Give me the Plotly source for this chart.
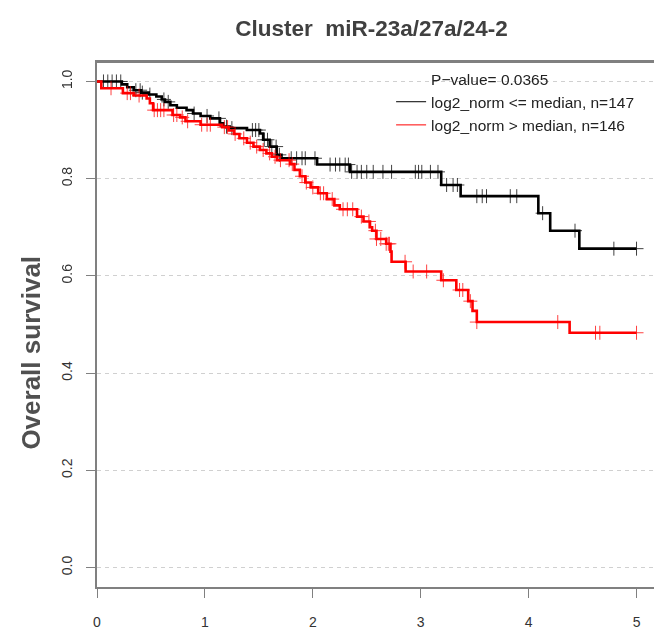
import numpy as np
import plotly.graph_objects as go

# ---- data ----
title_text = "Cluster  miR-23a/27a/24-2"
y_title = "Overall survival"
p_value_label = "P\u2212value= 0.0365"
low_label = "log2_norm <= median, n=147"
high_label = "log2_norm > median, n=146"

# Kaplan-Meier step curve: times of drops and survival after each drop
low_times = [0.0, 0.23, 0.28, 0.34, 0.41, 0.48, 0.55, 0.60, 0.63, 0.68, 0.74, 0.83, 0.89,
             0.96, 1.05, 1.14, 1.17, 1.23, 1.39, 1.51, 1.54, 1.60, 1.665, 1.71, 2.04,
             2.345, 3.19, 3.37, 4.09, 4.20, 4.47, 5.0]
low_surv = [1.0, 0.994, 0.988, 0.982, 0.977, 0.973, 0.969, 0.963, 0.958, 0.951, 0.946, 0.941, 0.934,
            0.929, 0.924, 0.914, 0.907, 0.904, 0.900, 0.893, 0.880, 0.866, 0.849, 0.842, 0.829,
            0.814, 0.787, 0.764, 0.729, 0.693, 0.656, 0.656]
low_censor = [0.06, 0.10, 0.14, 0.18, 0.22, 0.36, 0.40, 0.42, 0.49, 0.62, 0.66, 0.90, 1.02,
              1.13, 1.20, 1.25, 1.44, 1.47, 1.50, 1.55, 1.58, 1.62, 1.66, 1.69, 1.80, 1.85,
              1.90, 1.93, 2.02, 2.16, 2.21, 2.25, 2.30, 2.33, 2.36, 2.41, 2.45, 2.50, 2.56,
              2.65, 2.73, 2.95, 2.98, 3.01, 3.09, 3.16, 3.24, 3.30, 3.34, 3.52, 3.57, 3.61,
              3.83, 3.89, 4.13, 4.43, 4.79, 5.0]

high_times = [0.0, 0.04, 0.24, 0.34, 0.46, 0.49, 0.52, 0.70, 0.77, 0.82, 0.96, 1.16, 1.22,
              1.27, 1.32, 1.39, 1.45, 1.51, 1.57, 1.62, 1.67, 1.79, 1.83, 1.88, 1.93, 1.98,
              2.05, 2.13, 2.20, 2.25, 2.41, 2.47, 2.53, 2.55, 2.59, 2.68, 2.72, 2.73, 2.86,
              3.19, 3.33, 3.44, 3.48, 3.52, 4.38, 5.0]
high_surv = [1.0, 0.986, 0.976, 0.971, 0.965, 0.955, 0.941, 0.931, 0.926, 0.918, 0.911, 0.906, 0.899,
             0.892, 0.883, 0.874, 0.866, 0.859, 0.852, 0.845, 0.838, 0.830, 0.818, 0.805, 0.792, 0.782,
             0.770, 0.758, 0.745, 0.737, 0.722, 0.712, 0.700, 0.693, 0.676, 0.666, 0.650, 0.629, 0.609,
             0.591, 0.571, 0.548, 0.528, 0.505, 0.483, 0.483]
high_censor = [0.13, 0.28, 0.31, 0.39, 0.53, 0.56, 0.59, 0.62, 0.71, 0.74, 0.79, 0.84, 0.97,
               1.02, 1.05, 1.18, 1.21, 1.28, 1.36, 1.42, 1.48, 1.54, 1.60, 1.65, 1.70, 1.78,
               1.81, 1.90, 1.94, 2.00, 2.07, 2.10, 2.18, 2.28, 2.32, 2.37, 2.45, 2.52, 2.58,
               2.59, 2.63, 2.68, 2.70, 2.71, 2.855, 2.93, 3.055, 3.21, 3.36, 3.39, 3.46, 3.52,
               4.27, 4.62, 4.66, 5.0]

x_ticks = [0, 1, 2, 3, 4, 5]
y_ticks = [0.0, 0.2, 0.4, 0.6, 0.8, 1.0]
y_tick_text = ["0.0", "0.2", "0.4", "0.6", "0.8", "1.0"]

FONT = "Liberation Sans, Arial, sans-serif"


def surv_at(times, surv, t):
    idx = np.searchsorted(np.array(times), np.array(t), side="right") - 1
    return list(np.array(surv)[idx])


fig = go.Figure()

for times, surv, cens, color in [
    (low_times, low_surv, low_censor, "#000000"),
    (high_times, high_surv, high_censor, "#ff0000"),
]:
    fig.add_trace(go.Scatter(x=times, y=surv, mode="lines", line=dict(color=color, width=2.6, shape="hv"),
                             showlegend=False, hoverinfo="skip"))
    fig.add_trace(go.Scatter(x=cens, y=surv_at(times, surv, cens), mode="markers",
                             marker=dict(symbol="cross-thin", size=10, line=dict(color=color, width=1)),
                             opacity=0.75, showlegend=False, hoverinfo="skip"))

# legend entries
fig.add_trace(go.Scatter(x=[None], y=[None], mode="lines", name=p_value_label,
                         line=dict(color="rgba(0,0,0,0)", width=1), legendgroup="a"))
fig.add_trace(go.Scatter(x=[None], y=[None], mode="lines", name=low_label,
                         line=dict(color="#000000", width=1), legendgroup="b"))
fig.add_trace(go.Scatter(x=[None], y=[None], mode="lines", name=high_label,
                         line=dict(color="#ff0000", width=1), legendgroup="c"))

axis_color = "#808080"
fig.update_layout(
    width=654, height=630,
    margin=dict(l=97, r=0, t=62, b=38),
    plot_bgcolor="white", paper_bgcolor="white",
    font=dict(family=FONT, color="#333333", size=14),
    title=dict(text=f"<b>{title_text}</b>", x=0.568, xanchor="center", y=0.955, yanchor="middle",
               font=dict(size=22.5, color="#404040", family=FONT)),
    xaxis=dict(range=[0, 5.162], tickvals=x_ticks, showgrid=False, zeroline=False,
               showline=True, linecolor=axis_color, linewidth=1.5, mirror=True,
               ticks="outside", ticklen=9, tickcolor=axis_color, tickwidth=1.3,
               tickfont=dict(size=14, color="#333333"), ticklabelstandoff=12),
    yaxis=dict(range=[-0.04, 1.04], tickvals=y_ticks, ticktext=y_tick_text, tickangle=-90,
               showgrid=True, gridcolor="#d0d0d0", griddash="4px,4px", gridwidth=1, zeroline=False,
               showline=True, linecolor=axis_color, linewidth=1.5,
               ticks="outside", ticklen=9, tickcolor=axis_color, tickwidth=1.3,
               tickfont=dict(size=14, color="#333333"), ticklabelstandoff=9),
    legend=dict(x=0.528, xanchor="left", y=1.0, yanchor="top", bgcolor="rgba(255,255,255,0)",
                borderwidth=0, font=dict(size=15.5, color="#222222", family=FONT),
                tracegroupgap=0, traceorder="normal"),
    annotations=[dict(text=f"<b>{y_title}</b>", xref="paper", yref="paper", x=-0.118, y=0.447,
                      textangle=-90, showarrow=False, xanchor="center", yanchor="middle",
                      font=dict(size=26, color="#505050", family=FONT))],
    shapes=[dict(type="line", xref="paper", yref="paper", x0=0, x1=1, y0=1, y1=1,
                 line=dict(color=axis_color, width=2))],
)

fig.write_html("out.html", config={"displayModeBar": False},
               post_script="document.body.style.margin='0px';document.body.style.overflow='hidden';")
